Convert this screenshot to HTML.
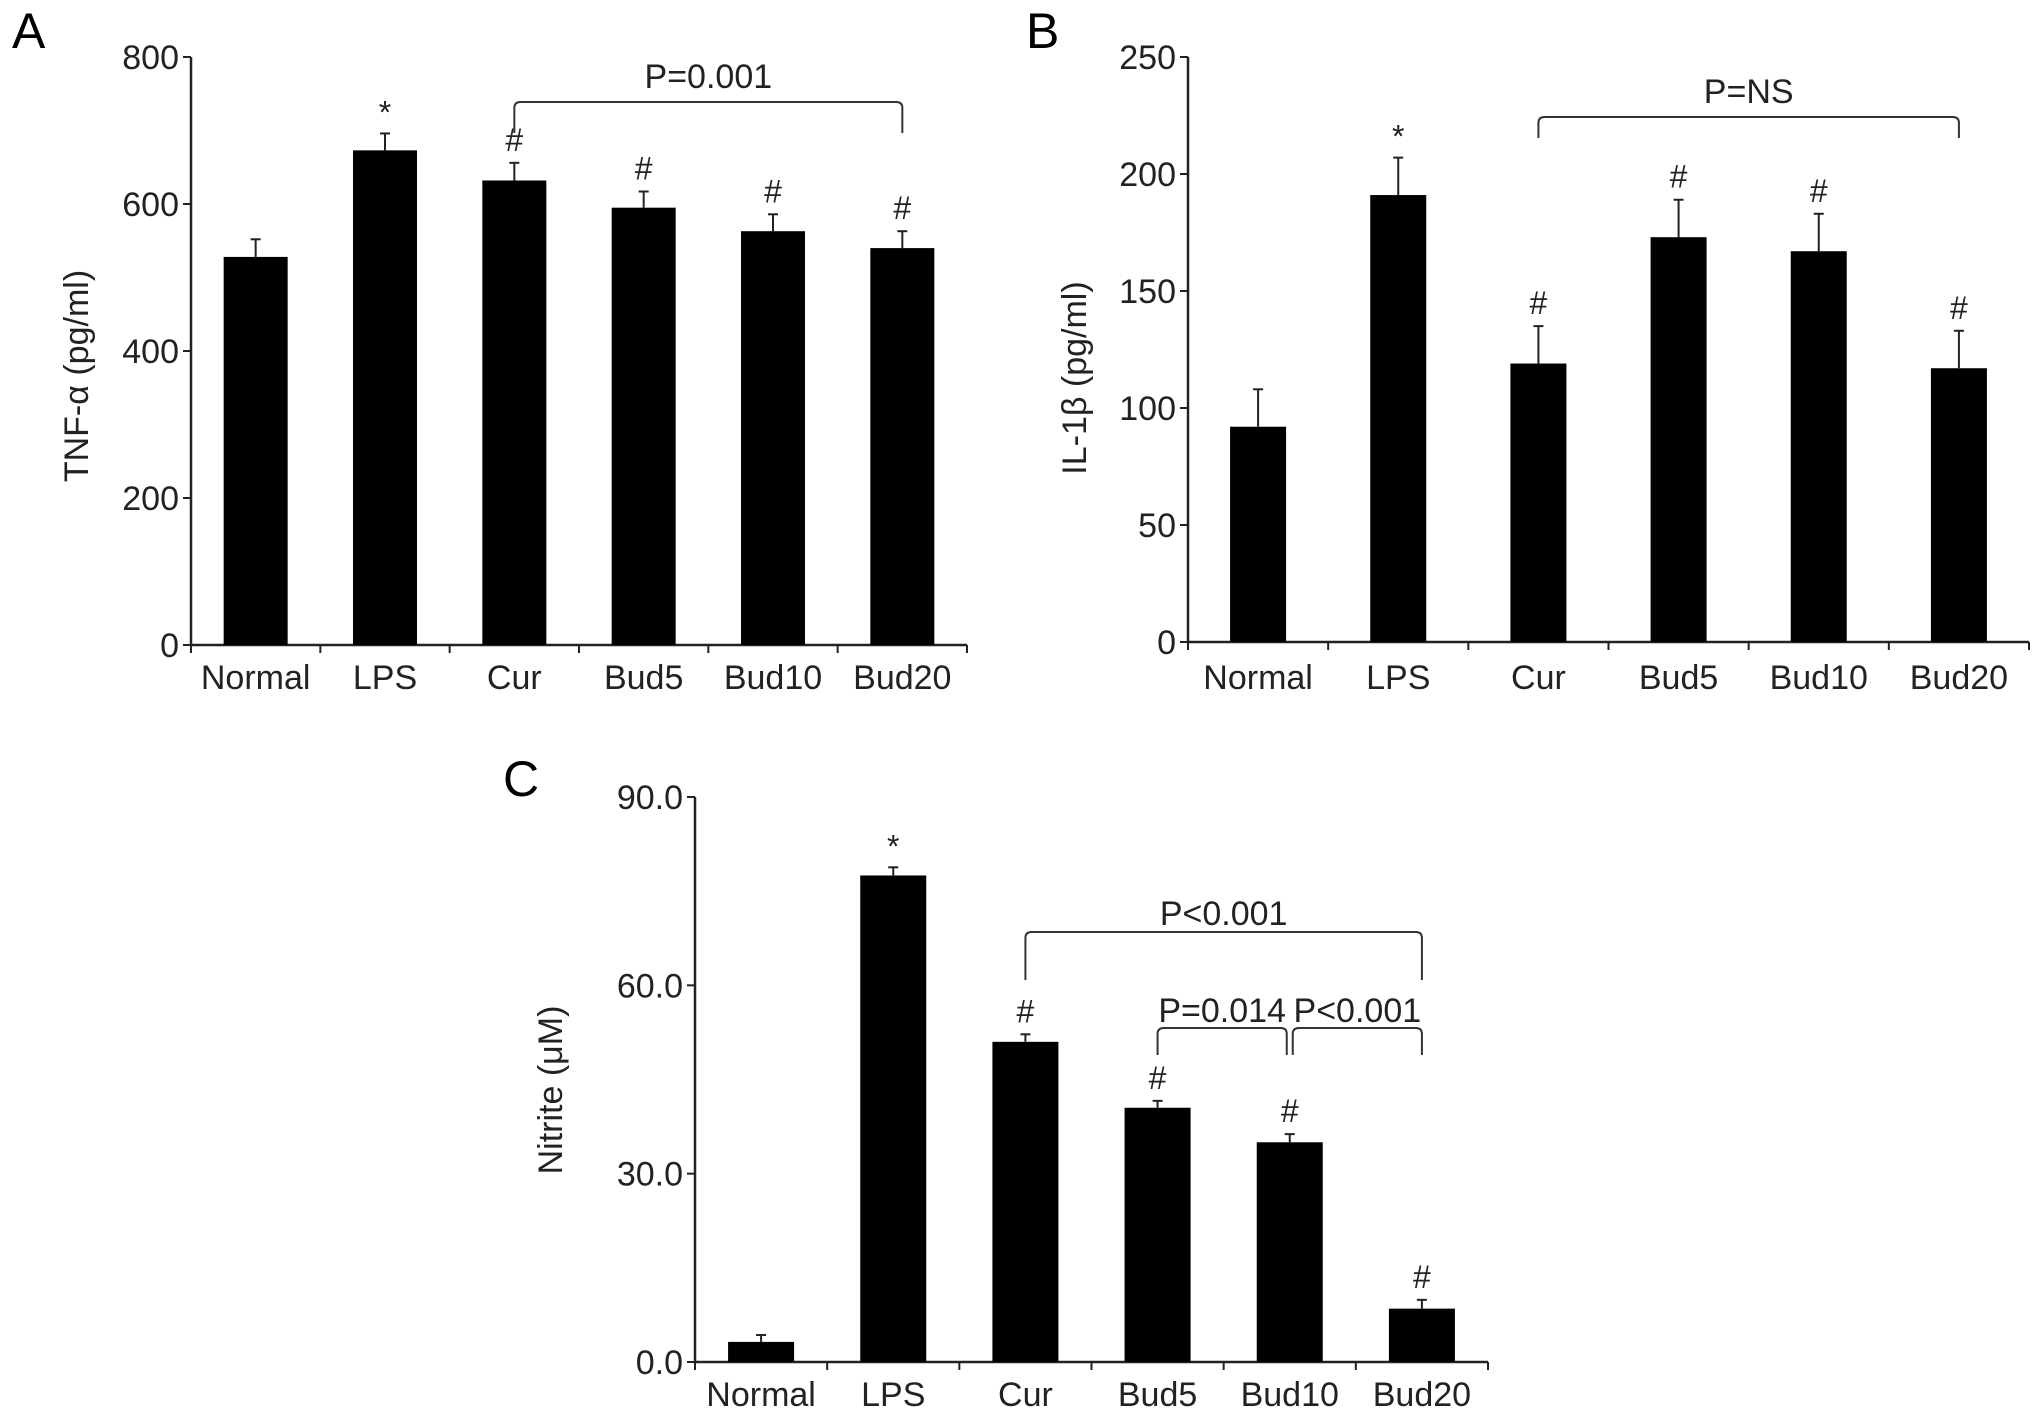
<!DOCTYPE html>
<html><head><meta charset="utf-8"><style>
html,body{margin:0;padding:0;background:#fff;}
svg{display:block;font-family:"Liberation Sans",sans-serif;}
</style></head><body>
<svg id="fig" width="2032" height="1423" viewBox="0 0 2032 1423" xmlns="http://www.w3.org/2000/svg">
<rect width="2032" height="1423" fill="#fff"/>
<text x="12" y="48" font-size="50">A</text>
<text x="1026" y="48" font-size="50">B</text>
<text x="503" y="796" font-size="50">C</text>
<g id="pa"></g>
<g id="pb"></g>
<g id="pc"></g>
</svg>
<script>
const categories = ["Normal","LPS","Cur","Bud5","Bud10","Bud20"];
const tnfValues = [528,673,632,595,563,540];
const tnfErrors = [24,23,24,22,23,23];
const tnfMarks = ["","*","#","#","#","#"];
const tnfTicks = [0,200,400,600,800];
const il1Values = [92,191,119,173,167,117];
const il1Errors = [16,16,16,16,16,16];
const il1Marks = ["","*","#","#","#","#"];
const il1Ticks = [0,50,100,150,200,250];
const nitValues = [3.2,77.5,51.0,40.5,35.0,8.5];
const nitErrors = [1.1,1.3,1.2,1.1,1.3,1.4];
const nitMarks = ["","*","#","#","#","#"];
const nitTicks = ["0.0","30.0","60.0","90.0"];

const NS="http://www.w3.org/2000/svg";
function mk(parent,tag,attrs,text){const e=document.createElementNS(NS,tag);for(const k in attrs)e.setAttribute(k,attrs[k]);if(text!==undefined)e.textContent=text;parent.appendChild(e);return e;}

function panel(g,cfg){
  const {x0,x1,y0,ytop,ymax,vals,errs,marks,ticks,barW,ylabel,ylx,yly,catY,prefix}=cfg;
  const n=categories.length, step=(x1-x0)/n;
  const ys=v=>y0-(v/ymax)*(y0-ytop);
  const xc=i=>x0+step*(i+0.5);
  const ax=mk(g,'path',{d:`M${x0},${ytop} L${x0},${y0} L${x1},${y0}`,stroke:'#222','stroke-width':2.5,fill:'none'});
  
  
  ticks.forEach(t=>{
    const v=parseFloat(t), y=ys(v);
    mk(g,'line',{x1:x0-8,x2:x0,y1:y,y2:y,stroke:'#222','stroke-width':2});
    const tl=mk(g,'text',{x:x0-12,y:y+12,'font-size':34,'text-anchor':'end',fill:'#222'},String(t));
    
    
  });
  for(let i=0;i<=n;i++){const x=x0+step*i;mk(g,'line',{x1:x,x2:x,y1:y0,y2:y0+8,stroke:'#222','stroke-width':2});}
  categories.forEach((c,i)=>{
    const x=xc(i), yt=ys(vals[i]), ye=ys(vals[i]+errs[i]);
    const b=mk(g,'rect',{x:x-barW/2,y:yt,width:barW,height:y0-yt,fill:'#000'});
    
    
    mk(g,'line',{x1:x,x2:x,y1:yt,y2:ye,stroke:'#222','stroke-width':2});
    mk(g,'line',{x1:x-5,x2:x+5,y1:ye,y2:ye,stroke:'#222','stroke-width':2});
    if(marks[i]){const m=mk(g,'text',{x:x,y:ye-(marks[i]==='*'?10:12),'font-size':32,'text-anchor':'middle',fill:'#222'},marks[i]);
      
      }
    const cl=mk(g,'text',{x:x,y:catY,'font-size':34,'text-anchor':'middle',fill:'#222'},c);
    
    
  });
  const yl=mk(g,'text',{x:0,y:0,'font-size':34,'text-anchor':'middle',fill:'#222',transform:`translate(${ylx},${yly}) rotate(-90)`},ylabel);
  
  
  return {xc,ys};
}
function bracket(g,xa,xb,y,yd,label,ly,name){
  const p=mk(g,'path',{d:`M${xa},${yd} L${xa},${y+6} Q${xa},${y} ${xa+6},${y} L${xb-6},${y} Q${xb},${y} ${xb},${y+6} L${xb},${yd}`,stroke:'#333','stroke-width':2,fill:'none'});
  
  
  const t=mk(g,'text',{x:(xa+xb)/2,y:ly,'font-size':34,'text-anchor':'middle',fill:'#222'},label);
  
  
}
const A=panel(document.getElementById('pa'),{x0:191,x1:967,y0:645,ytop:57,ymax:800,vals:tnfValues,errs:tnfErrors,marks:tnfMarks,ticks:tnfTicks,barW:64,ylabel:"TNF-\u03b1 (pg/ml)",ylx:88,yly:376,catY:689,prefix:'tnf'});
bracket(document.getElementById('pa'),A.xc(2),A.xc(5),102,133,"P=0.001",88,'tnf-bracket');
const B=panel(document.getElementById('pb'),{x0:1188,x1:2029,y0:642,ytop:57,ymax:250,vals:il1Values,errs:il1Errors,marks:il1Marks,ticks:il1Ticks,barW:56,ylabel:"IL-1\u03b2 (pg/ml)",ylx:1086,yly:378,catY:689,prefix:'il1b'});
bracket(document.getElementById('pb'),B.xc(2),B.xc(5),117,138,"P=NS",103,'il1b-bracket');
const C=panel(document.getElementById('pc'),{x0:695,x1:1488,y0:1362,ytop:797,ymax:90,vals:nitValues,errs:nitErrors,marks:nitMarks,ticks:nitTicks,barW:66,ylabel:"Nitrite (\u03bcM)",ylx:562,yly:1090,catY:1406,prefix:'nitrite'});
const gc=document.getElementById('pc');
bracket(gc,C.xc(2),C.xc(5),932,980,"P<0.001",925,'nitrite-bracket-cur-bud20');
bracket(gc,C.xc(3),C.xc(4)-3,1028,1055,"P=0.014",1022,'nitrite-bracket-bud5-bud10');
bracket(gc,C.xc(4)+3,C.xc(5),1028,1055,"P<0.001",1022,'nitrite-bracket-bud10-bud20');
</script>
</body></html>
